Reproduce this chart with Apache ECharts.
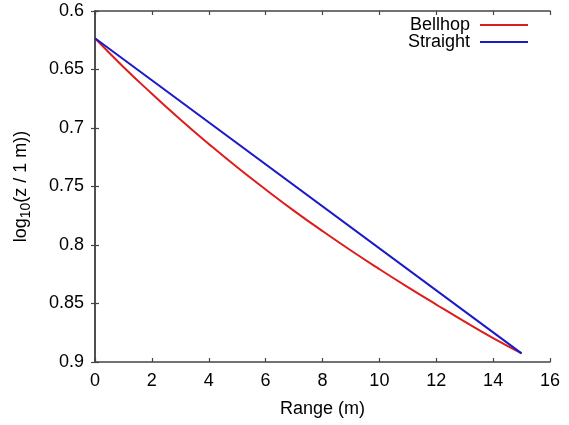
<!DOCTYPE html>
<html><head><meta charset="utf-8">
<script src="https://cdn.jsdelivr.net/npm/echarts@6/dist/echarts.min.js"></script>
<style>html,body{margin:0;padding:0;background:#fff}#c{width:569px;height:425px}</style>
</head><body><div id="c"></div>
<script>
var rangeX = [0,1,2,3,4,5,6,7,8,9,10,11,12,13,14,15];
var bellhop = [0.6233,0.6478,0.6707,0.6927,0.7136,0.7336,0.7525,0.7708,0.7881,0.8047,0.8206,0.8360,0.8509,0.8655,0.8796,0.8926];
var straightX = [0,15];
var straight = [0.6233,0.8926];
var xTicks = [0,2,4,6,8,10,12,14,16];
var yTicks = ['0.6','0.65','0.7','0.75','0.8','0.85','0.9'];

var font = '"Liberation Sans", Arial, Helvetica, sans-serif';
var axisCol = '#444';
function pairs(xs, ys){ return xs.map(function(x,i){return [x, ys[i]];}); }
var chart = echarts.init(document.getElementById('c'));
chart.setOption({
  animation:false,
  backgroundColor:'#fff',
  grid:{left:95, top:11, right:19, bottom:63, show:false},
  legend:{
    right:41, top:16, padding:0, orient:'vertical', align:'right', itemWidth:48, itemHeight:2, itemGap:-1,
    textStyle:{fontFamily:font, fontSize:18, color:'#000', padding:[0,5,0,0]},
    data:[{name:'Bellhop', icon:'rect'},{name:'Straight', icon:'rect'}]
  },
  xAxis:[{
    type:'value', min:0, max:16, interval:2,
    name:'Range (m)', nameLocation:'middle', nameGap:38,
    nameTextStyle:{fontFamily:font, fontSize:18, color:'#000'},
    axisLine:{show:true, lineStyle:{color:axisCol, width:1.5}},
    axisTick:{show:true, inside:true, length:4, lineStyle:{color:axisCol, width:1.2}},
    axisLabel:{fontFamily:font, fontSize:18, color:'#000', margin:10, formatter:function(v){ return String(xTicks[Math.round(v/2)]); }},
    splitLine:{show:false}
  },{
    type:'value', min:0, max:16, interval:2, position:'top',
    axisLine:{show:true, lineStyle:{color:axisCol, width:1.5}},
    axisTick:{show:true, inside:true, length:4, lineStyle:{color:axisCol, width:1.2}},
    axisLabel:{show:false}, splitLine:{show:false}
  }],
  yAxis:[{
    type:'value', min:0.6, max:0.9, interval:0.05, inverse:true,
    name:'{a|log}{s|10}{a|(z / 1 m))}', nameLocation:'middle', nameGap:65, nameRotate:90,
    nameTextStyle:{rich:{a:{fontFamily:font, fontSize:18, color:'#000'}, s:{fontFamily:font, fontSize:14, color:'#000', verticalAlign:'bottom', padding:[0,0,-3,0]}}},
    axisLine:{show:true, lineStyle:{color:axisCol, width:1.5}},
    axisTick:{show:true, inside:true, length:4, lineStyle:{color:axisCol, width:1.2}},
    axisLabel:{fontFamily:font, fontSize:18, color:'#000', margin:11, formatter:function(v){ var i=Math.round((v-0.6)/0.05); return yTicks[i]; }},
    splitLine:{show:false}
  },{
    type:'value', min:0.6, max:0.9, interval:0.05, inverse:true, position:'right',
    axisLine:{show:true, lineStyle:{color:axisCol, width:1.5}},
    axisTick:{show:true, inside:true, length:4, lineStyle:{color:axisCol, width:1.2}},
    axisLabel:{show:false}, splitLine:{show:false}
  }],
  series:[{
    name:'Bellhop', type:'line', smooth:true, showSymbol:false, xAxisIndex:0, yAxisIndex:0,
    data:pairs(rangeX, bellhop), lineStyle:{color:'#dd1c1c', width:2}, itemStyle:{color:'#dd1c1c'}
  },{
    name:'Straight', type:'line', showSymbol:false, xAxisIndex:0, yAxisIndex:0,
    data:pairs(straightX, straight), lineStyle:{color:'#1a1ac8', width:2}, itemStyle:{color:'#1a1ac8'}
  }]
});
</script></body></html>
